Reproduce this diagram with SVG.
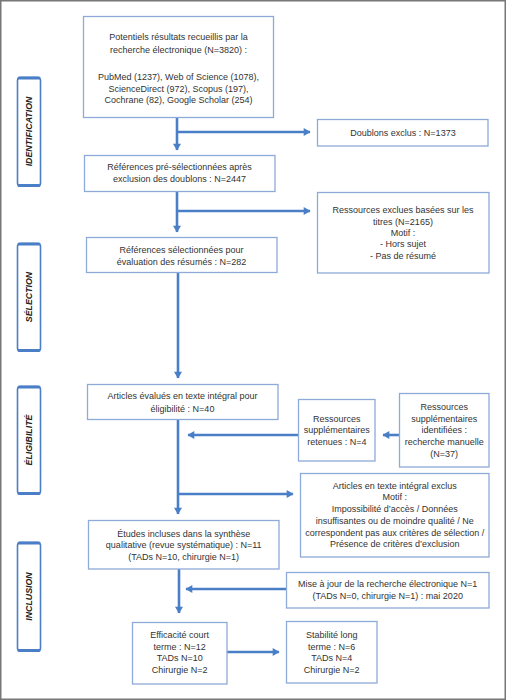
<svg xmlns="http://www.w3.org/2000/svg" width="506" height="700" viewBox="0 0 506 700">
<defs>
<style>
.box{fill:#fff;stroke:#8eaad8;stroke-width:1.3}
.t{font-family:"Liberation Sans",Arial,sans-serif;font-size:9px;fill:#333;text-anchor:middle}
.lbl{font-family:"Liberation Sans",Arial,sans-serif;font-size:8.8px;font-weight:bold;font-style:italic;fill:#222;text-anchor:middle}
.lb{fill:#fff;stroke:#4a7fc8;stroke-width:1.6}
.cap{stroke:#4a7fc8;stroke-width:3;fill:none;stroke-linecap:round}
.c{stroke:#4a7fc8;stroke-width:2.6;fill:none}
</style>
<marker id="ah" markerWidth="8" markerHeight="8" refX="5.5" refY="3.5" orient="auto" markerUnits="userSpaceOnUse" viewBox="0 0 6 7">
<path d="M0,0 L6,3.5 L0,7 Z" fill="#4a7fc8"/>
</marker>
</defs>
<rect x="0.75" y="0.75" width="504.5" height="698.5" fill="#fff" stroke="#777" stroke-width="1.5"/>

<g id="connectors">
<path class="c" d="M177,117 V150" marker-end="url(#ah)"/>
<path class="c" d="M177,132 H310" marker-end="url(#ah)"/>
<path class="c" d="M177,191 V232" marker-end="url(#ah)"/>
<path class="c" d="M177,211 H310" marker-end="url(#ah)"/>
<path class="c" d="M178,272 V378" marker-end="url(#ah)"/>
<path class="c" d="M178,419 V514" marker-end="url(#ah)"/>
<path class="c" d="M399,435 H383" marker-end="url(#ah)"/>
<path class="c" d="M298,435 H188" marker-end="url(#ah)"/>
<path class="c" d="M178,494 H293" marker-end="url(#ah)"/>
<path class="c" d="M179,569 V613" marker-end="url(#ah)"/>
<path class="c" d="M286,589 H186" marker-end="url(#ah)"/>
<path class="c" d="M227,652 H279" marker-end="url(#ah)"/>
</g>

<g id="label-identification">
<rect class="lb" x="17.5" y="77.5" width="23" height="108.5" rx="3"/>
<path class="cap" d="M19,78 H39 M19,185.5 H39"/>
<text class="lbl" transform="translate(29,131.5) rotate(-90)" y="3.2">IDENTIFICATION</text>
</g>
<g id="label-selection">
<rect class="lb" x="17.5" y="243.5" width="23" height="107.5" rx="3"/>
<path class="cap" d="M19,244 H39 M19,350.5 H39"/>
<text class="lbl" transform="translate(29,297) rotate(-90)" y="3.2">SÉLECTION</text>
</g>
<g id="label-eligibilite">
<rect class="lb" x="17.5" y="386.5" width="23" height="107.5" rx="3"/>
<path class="cap" d="M19,387 H39 M19,493.5 H39"/>
<text class="lbl" transform="translate(29,440) rotate(-90)" y="3.2">ÉLIGIBILITÉ</text>
</g>
<g id="label-inclusion">
<rect class="lb" x="17.5" y="542.5" width="23" height="108.5" rx="3"/>
<path class="cap" d="M19,543 H39 M19,650.5 H39"/>
<text class="lbl" transform="translate(29,596.5) rotate(-90)" y="3.2">INCLUSION</text>
</g>

<g id="n1">
<rect class="box" x="83.5" y="16.5" width="190" height="101"/>
<text class="t" x="178.5" y="40">Potentiels résultats recueillis par la</text>
<text class="t" x="178.5" y="52.5">recherche électronique (N=3820) :</text>
<text class="t" x="178.5" y="80">PubMed (1237), Web of Science (1078),</text>
<text class="t" x="178.5" y="91.5">ScienceDirect (972), Scopus (197),</text>
<text class="t" x="178.5" y="102.8">Cochrane (82), Google Scholar (254)</text>
</g>
<g id="n-doublons">
<rect class="box" x="317.5" y="119.5" width="170.5" height="26.5"/>
<text class="t" x="403" y="135.8">Doublons exclus : N=1373</text>
</g>
<g id="n2">
<rect class="box" x="84.5" y="155.5" width="190.5" height="36"/>
<text class="t" x="179.5" y="170">Références pré-sélectionnées après</text>
<text class="t" x="179.5" y="182.3">exclusion des doublons : N=2447</text>
</g>
<g id="n-titres">
<rect class="box" x="317.5" y="192.5" width="171.5" height="80.5"/>
<text class="t" x="403" y="212.5">Ressources exclues basées sur les</text>
<text class="t" x="403" y="224.9">titres (N=2165)</text>
<text class="t" x="403" y="236">Motif :</text>
<text class="t" x="403" y="247.3">- Hors sujet</text>
<text class="t" x="403" y="259.2">- Pas de résumé</text>
</g>
<g id="n3">
<rect class="box" x="86.5" y="237.5" width="190.5" height="35"/>
<text class="t" x="181.5" y="253.2">Références sélectionnées pour</text>
<text class="t" x="181.5" y="264.5">évaluation des résumés : N=282</text>
</g>
<g id="n4">
<rect class="box" x="87.5" y="384.5" width="190.5" height="35"/>
<text class="t" x="182.5" y="399">Articles évalués en texte intégral pour</text>
<text class="t" x="182.5" y="411.5">éligibilité : N=40</text>
</g>
<g id="n-retenues">
<rect class="box" x="298.5" y="399.5" width="76.5" height="61.5"/>
<text class="t" x="336.8" y="421.5">Ressources</text>
<text class="t" x="336.8" y="433.2">supplémentaires</text>
<text class="t" x="336.8" y="445">retenues : N=4</text>
</g>
<g id="n-identifiees">
<rect class="box" x="399.5" y="393.5" width="89.5" height="73.5"/>
<text class="t" x="444.2" y="410">Ressources</text>
<text class="t" x="444.2" y="421.5">supplémentaires</text>
<text class="t" x="444.2" y="433.2">identifiées :</text>
<text class="t" x="444.2" y="445">recherche manuelle</text>
<text class="t" x="444.2" y="456.5">(N=37)</text>
</g>
<g id="n-exclus">
<rect class="box" x="300.5" y="473.5" width="188.5" height="83.5"/>
<text class="t" x="394.7" y="489">Articles en texte intégral exclus</text>
<text class="t" x="394.7" y="500">Motif :</text>
<text class="t" x="394.7" y="512.2">Impossibilité d’accès / Données</text>
<text class="t" x="394.7" y="524.2">insuffisantes ou de moindre qualité / Ne</text>
<text class="t" x="394.7" y="535.5">correspondent pas aux critères de sélection /</text>
<text class="t" x="394.7" y="547.2">Présence de critères d’exclusion</text>
</g>
<g id="n5">
<rect class="box" x="88.5" y="520.5" width="190.5" height="48.5"/>
<text class="t" x="183.7" y="536.5">Études incluses dans la synthèse</text>
<text class="t" x="183.7" y="548.2">qualitative (revue systématique) : N=11</text>
<text class="t" x="183.7" y="559.9">(TADs N=10, chirurgie N=1)</text>
</g>
<g id="n-maj">
<rect class="box" x="286.5" y="572.5" width="202.5" height="35.5"/>
<text class="t" x="387.7" y="587.2">Mise à jour de la recherche électronique N=1</text>
<text class="t" x="387.7" y="599.2">(TADs N=0, chirurgie N=1) : mai 2020</text>
</g>
<g id="n-court">
<rect class="box" x="132.5" y="622.5" width="94.5" height="61.5"/>
<text class="t" x="179.7" y="638.2">Efficacité court</text>
<text class="t" x="179.7" y="649.9">terme : N=12</text>
<text class="t" x="179.7" y="661.2">TADs N=10</text>
<text class="t" x="179.7" y="673.2">Chirurgie N=2</text>
</g>
<g id="n-long">
<rect class="box" x="286.5" y="621.5" width="90.5" height="61.5"/>
<text class="t" x="331.7" y="637.9">Stabilité long</text>
<text class="t" x="331.7" y="649.5">terme : N=6</text>
<text class="t" x="331.7" y="661.2">TADs N=4</text>
<text class="t" x="331.7" y="673.2">Chirurgie N=2</text>
</g>
</svg>
